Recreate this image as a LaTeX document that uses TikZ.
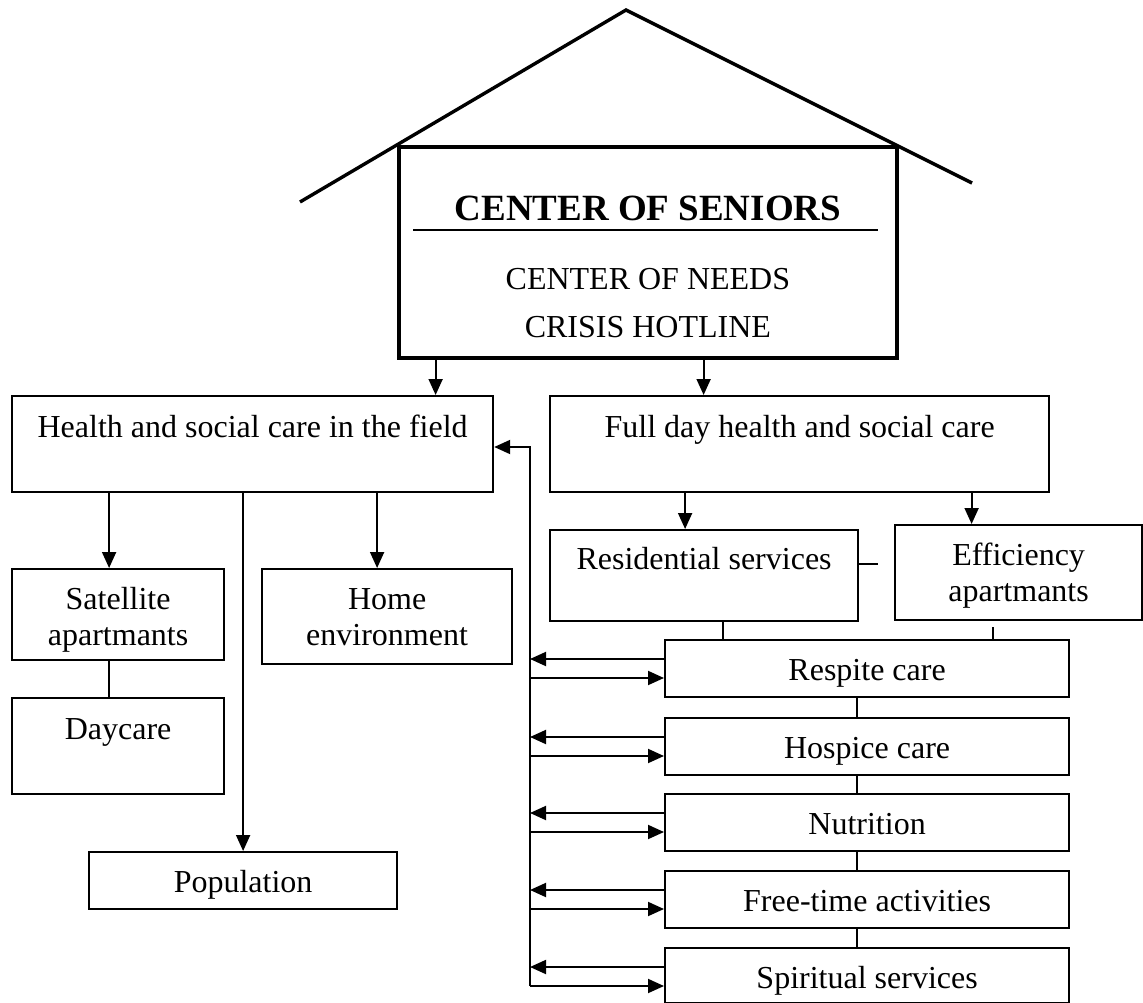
\documentclass[tikz,border=0pt]{standalone}
\usepackage{fontspec}
\setmainfont{Liberation Serif}
\usetikzlibrary{arrows.meta}

\begin{document}
\begin{tikzpicture}[x=1pt,y=-1pt,
  box/.style={draw,line width=2.2pt,anchor=north west,inner sep=0pt,align=center,font=\fontsize{32}{36}\selectfont},
  item/.style={box,minimum width=404pt,text height=40pt,text depth=17pt},
  link/.style={line width=1.9pt},
  arr/.style={link,-{Triangle[length=16pt,width=14pt]}}]
\useasboundingbox (0,0) rectangle (1143,1003);
% roof and main box
\draw [line width=3.4pt] (300,202) -- (626,10) -- (972,183);
\node (main) at (397,145)[box,line width=3.8pt,minimum width=498pt,text height=191pt,text depth=20pt] {{\fontsize{37}{40}\selectfont\bfseries CENTER OF SENIORS}\\[33pt] CENTER OF NEEDS\\[12pt] CRISIS HOTLINE};
\draw [link] (413,230) -- (878,230);
% left branch
\node (health) at (11,395)[box,minimum width=481pt,text height=41pt,text depth=55pt] {Health and social care in the field};
\node (satel) at (11,568)[box,minimum width=212pt,text height=76pt,text depth=15pt] {Satellite\\apartmants};
\node (home) at (261,568)[box,minimum width=250pt,text height=76pt,text depth=19pt] {Home\\environment};
\node (daycare) at (11,697)[box,minimum width=212pt,text height=41pt,text depth=55pt] {Daycare};
\node (popul) at (88,851)[box,minimum width=308pt,text height=40pt,text depth=17pt] {Population};
% right branch
\node (fullday) at (549,395)[box,minimum width=499pt,text height=41pt,text depth=55pt] {Full day health and social care};
\node (resid) at (549,529)[box,minimum width=308pt,text height=39pt,text depth=52pt] {Residential services};
\node (effic) at (894,524)[box,minimum width=247pt,text height=76pt,text depth=19pt] {Efficiency\\apartmants};
\node (respite) at (664,639)[item] {Respite care};
\node (hospice) at (664,717)[item] {Hospice care};
\node (nutri) at (664,793)[item] {Nutrition};
\node (freetime) at (664,870)[item] {Free-time activities};
\node (spirit) at (664,947)[item,text depth=15pt] {Spiritual services};
% connectors
\draw [arr] ([xshift=183pt]health.north |- main.south) -- ([xshift=183pt]health.north);
\draw [arr] ([xshift=-96pt]fullday.north |- main.south) -- ([xshift=-96pt]fullday.north);
\draw [arr] ([xshift=-9pt]satel.north |- health.south) -- ([xshift=-9pt]satel.north);
\draw [arr] ([xshift=-10pt]home.north |- health.south) -- ([xshift=-10pt]home.north);
\draw [arr] (popul.north |- health.south) -- (popul.north);
\draw [link] ([xshift=-9pt]satel.south) -- ([xshift=-9pt]daycare.north);
\draw [arr] ([xshift=-19pt]resid.north |- fullday.south) -- ([xshift=-19pt]resid.north);
\draw [arr] ([xshift=-47pt]effic.north |- fullday.south) -- ([xshift=-47pt]effic.north);
\draw [link] ([yshift=12pt]resid.east) -- ++(19,0);
\draw [link] ([xshift=19pt]resid.south) -- ([xshift=19pt]resid.south |- respite.north);
\draw [link] ([xshift=-26pt,yshift=-6pt]effic.south) -- ([xshift=-26pt]effic.south |- respite.north);
\draw [link] ([xshift=-10pt]respite.south) -- ([xshift=-10pt]hospice.north);
\draw [link] ([xshift=-10pt]hospice.south) -- ([xshift=-10pt]nutri.north);
\draw [link] ([xshift=-10pt]nutri.south) -- ([xshift=-10pt]freetime.north);
\draw [link] ([xshift=-10pt]freetime.south) -- ([xshift=-10pt]spirit.north);
% feedback bus
\coordinate (bustop) at (530,447);
\coordinate (busbot) at (530,986);
\draw [arr] (busbot) -- (bustop) -- (bustop -| health.east);
\draw [arr] ([yshift=-20pt]respite.north west) -- ([yshift=-20pt]respite.north west -| bustop);
\draw [arr] ([yshift=-39pt]respite.north west -| bustop) -- ([yshift=-39pt]respite.north west);
\draw [arr] ([yshift=-20pt]hospice.north west) -- ([yshift=-20pt]hospice.north west -| bustop);
\draw [arr] ([yshift=-39pt]hospice.north west -| bustop) -- ([yshift=-39pt]hospice.north west);
\draw [arr] ([yshift=-20pt]nutri.north west) -- ([yshift=-20pt]nutri.north west -| bustop);
\draw [arr] ([yshift=-39pt]nutri.north west -| bustop) -- ([yshift=-39pt]nutri.north west);
\draw [arr] ([yshift=-20pt]freetime.north west) -- ([yshift=-20pt]freetime.north west -| bustop);
\draw [arr] ([yshift=-39pt]freetime.north west -| bustop) -- ([yshift=-39pt]freetime.north west);
\draw [arr] ([yshift=-20pt]spirit.north west) -- ([yshift=-20pt]spirit.north west -| bustop);
\draw [arr] ([yshift=-39pt]spirit.north west -| bustop) -- ([yshift=-39pt]spirit.north west);
\end{tikzpicture}
\end{document}
